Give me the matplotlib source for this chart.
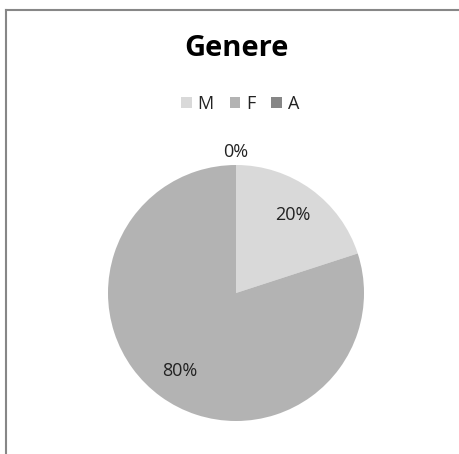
import matplotlib.pyplot as plt
import numpy as np
from matplotlib.patches import Patch
from matplotlib.lines import Line2D

# dati
categorie = ["M", "F", "A"]
percentuali = [20, 80, 0]
colori = ["#d9d9d9", "#b3b3b3", "#868686"]

plt.rcParams['font.family'] = ['Open Sans', 'DejaVu Sans']

fig = plt.figure(figsize=(4.6, 4.54), dpi=100)
W, H = 460, 454

# cornice grigia (solo sinistra e sopra visibili)
fig.add_artist(Line2D([6.5 / W, 6.5 / W], [0, 1 - 9.5 / H], transform=fig.transFigure,
                      color="#878787", lw=1.5))
fig.add_artist(Line2D([6.5 / W, 1], [1 - 9.5 / H, 1 - 9.5 / H], transform=fig.transFigure,
                      color="#878787", lw=1.5))

fig.text(236 / W, 1 - 49 / H, "Genere", ha="center", va="center",
         fontsize=21, fontweight="bold", color="black")

cx, cy, r = 236, 293, 128
ax = fig.add_axes([(cx - r) / W, (H - cy - r) / H, 2 * r / W, 2 * r / H])
wedges, texts, autotexts = ax.pie(percentuali, colors=colori, startangle=90,
                                  counterclock=False, autopct="%d%%", pctdistance=0.75,
                                  textprops=dict(fontsize=13, color="#222222"))
ax.set_xlim(-1, 1)
ax.set_ylim(-1, 1)
ax.set_aspect("auto")
ax.axis("off")

# etichette delle fette vuote fuori dalla torta
for w, t, v in zip(wedges, autotexts, percentuali):
    if v == 0:
        ang = np.deg2rad(w.theta1)
        t.set_position((1.1 * np.cos(ang), 1.1 * np.sin(ang)))

handles = [Patch(facecolor=c, edgecolor="none") for c in colori]
fig.legend(handles, categorie, loc="center", bbox_to_anchor=(240 / W, 1 - 104 / H), ncol=3,
           frameon=False, fontsize=13, handlelength=0.6, handleheight=0.6,
           handletextpad=0.3, columnspacing=0.9, labelcolor="#222222")

fig.savefig("out.png", dpi=100, facecolor="white")
